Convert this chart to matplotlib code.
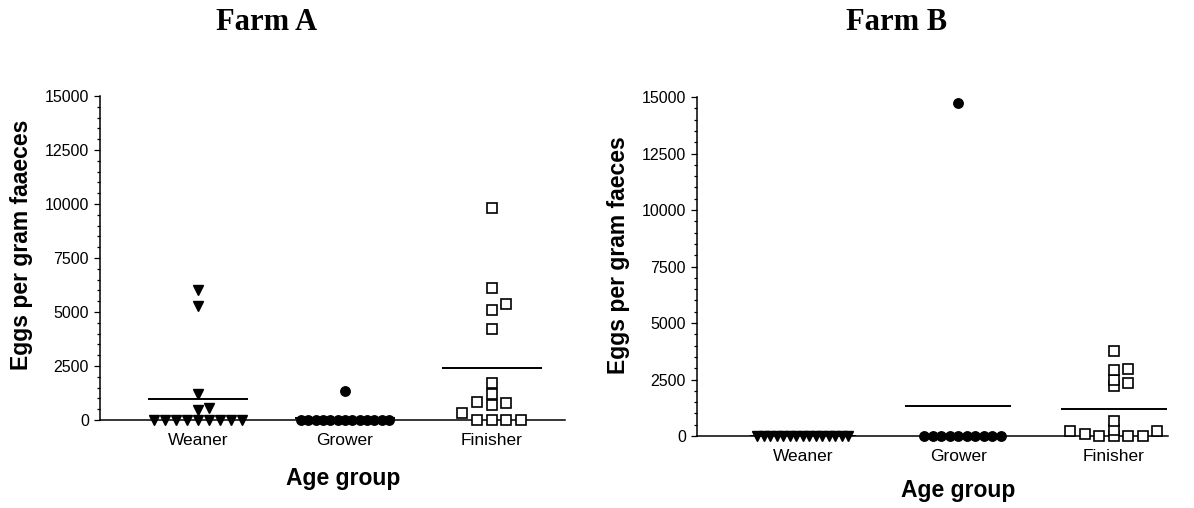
import numpy as np
import matplotlib.pyplot as plt
from matplotlib.ticker import MultipleLocator

# eggs per gram faeces, one value per pig
groups = ["Weaner", "Grower", "Finisher"]

a_weaner = [0, 0, 0, 0, 0, 0, 0, 0, 0, 450, 550, 1200, 5300, 6000]
a_grower = [0, 0, 0, 0, 0, 0, 0, 0, 0, 0, 0, 0, 0, 1350]
a_finisher = [0, 0, 0, 0, 310, 700, 780, 840, 1200, 1700, 4200, 5100, 5350, 6100, 9800]

b_weaner = [0, 0, 0, 0, 0, 0, 0, 0, 0, 0, 0, 0, 0, 0, 0]
b_grower = [0, 0, 0, 0, 0, 0, 0, 0, 0, 0, 14750]
b_finisher = [0, 0, 0, 0, 100, 200, 200, 250, 650, 2200, 2350, 2500, 2900, 2950, 3750]

plt.rcParams['font.family'] = ['Liberation Sans', 'DejaVu Sans']

fig = plt.figure(figsize=(11.94, 5.08), dpi=100)


def swarm(values, step, ypx, size):
    # column scatter: shift points sideways until they no longer overlap
    offs = np.zeros(len(values))
    placed = []
    for i in np.argsort(values, kind="stable"):
        y = values[i] * ypx
        k = 0
        while True:
            cand = 0.0 if k == 0 else ((k + 1) // 2) * step * (1 if k % 2 else -1)
            if not any(abs(cand - o) < step / 2 and abs(y - py) < size for o, py in placed):
                break
            k += 1
        offs[i] = cand
        placed.append((cand, y))
    return offs


def panel(rect, xlim, data, steps, gap):
    ax = fig.add_axes(rect)
    ax.set_xlim(*xlim)
    ax.set_ylim(0, 15000)
    ypx = rect[3] * 508 / 15000
    styles = [dict(marker="v", mfc="black", mec="black", ms=7.5),
              dict(marker="o", mfc="black", mec="black", ms=6.8),
              dict(marker="s", mfc="white", mec="black", ms=7, mew=1.2)]
    for i, (vals, st, stp) in enumerate(zip(data, styles, steps)):
        vals = np.array(vals, dtype=float)
        x = i + swarm(vals, stp, ypx, gap)
        ax.plot(x, vals, linestyle="none", clip_on=False, zorder=3, **st)
        ax.hlines(vals.mean(), i - 0.34, i + 0.34, color="black", lw=1.4, zorder=2)

    for s in ["top", "right"]:
        ax.spines[s].set_visible(False)
    ax.spines["left"].set_linewidth(1.1)
    ax.spines["bottom"].set_linewidth(1.1)
    ax.yaxis.set_major_locator(MultipleLocator(2500))
    ax.yaxis.set_minor_locator(MultipleLocator(500))
    ax.tick_params(axis="y", which="major", length=4, width=0.9, labelsize=11.5, pad=4)
    ax.tick_params(axis="y", which="minor", length=2.3, width=0.9)
    ax.set_xticks(range(3))
    ax.set_xticklabels(groups)
    ax.tick_params(axis="x", length=0, labelsize=12.5, pad=9)
    return ax


panel([0.0838, 0.1732, 0.3894, 0.6378], (-0.67, 2.5),
      [a_weaner, a_grower, a_finisher], [0.075, 0.05, 0.1], 8)
panel([0.5838, 0.1417, 0.3945, 0.6673], (-0.68, 2.35),
      [b_weaner, b_grower, b_finisher], [0.042, 0.055, 0.093], 5.5)

fig.text(267 / 1194, 1 - 23 / 508, "Farm A", family="Liberation Serif",
         weight="bold", fontsize=22, ha="center", va="center")
fig.text(897 / 1194, 1 - 23 / 508, "Farm B", family="Liberation Serif",
         weight="bold", fontsize=22, ha="center", va="center")

fig.text(22 / 1194, 1 - 245 / 508, "Eggs per gram faaeces", rotation=90,
         weight="bold", fontsize=16.5, ha="center", va="center")
fig.text(618 / 1194, 1 - 255 / 508, "Eggs per gram faeces", rotation=90,
         weight="bold", fontsize=16.5, ha="center", va="center")

fig.text(343 / 1194, 1 - 478 / 508, "Age group", weight="bold",
         fontsize=16.5, ha="center", va="center")
fig.text(958 / 1194, 1 - 490 / 508, "Age group", weight="bold",
         fontsize=16.5, ha="center", va="center")

fig.savefig("out.png", dpi=100)
